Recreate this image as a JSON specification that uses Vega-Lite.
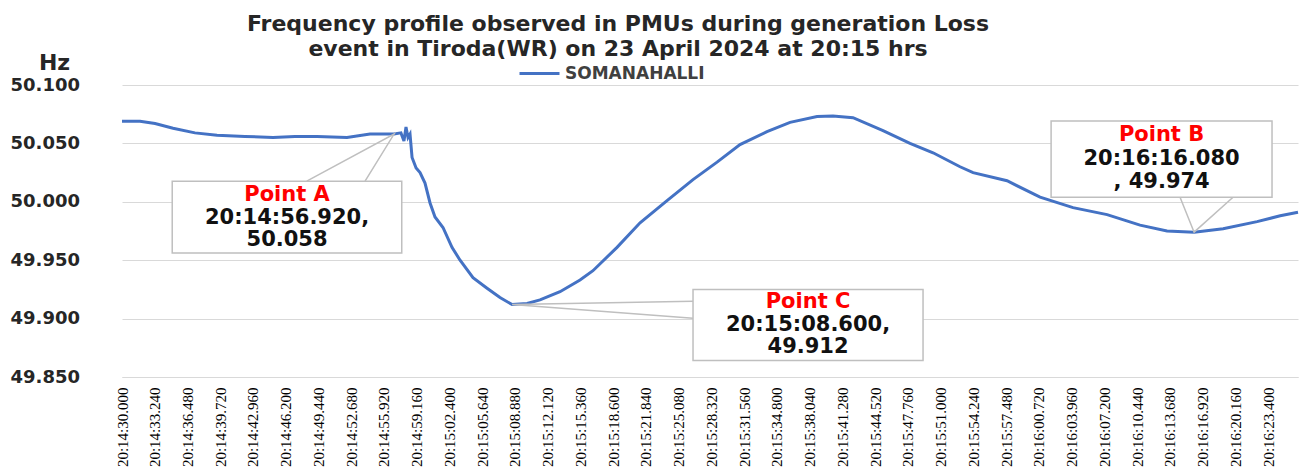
{
  "$schema": "https://vega.github.io/schema/vega-lite/v6.json",
  "width": 1176,
  "height": 292,
  "autosize": {"type": "none"},
  "padding": {"left": 122, "top": 85, "right": 12, "bottom": 94},
  "background": "white",
  "title": {
    "text": ["Frequency profile observed in PMUs during generation Loss", "event in Tiroda(WR) on 23 April 2024 at 20:15 hrs"],
    "font": "DejaVu Sans",
    "fontSize": 22,
    "fontWeight": "bold",
    "color": "#262626",
    "lineHeight": 25,
    "anchor": "middle",
    "dx": -92,
    "dy": 10,
    "offset": 0
  },
  "config": {"view": {"stroke": null}},
  "datasets": {
    "freq": [
      {"time": "2024-04-23T20:14:30.000", "f": 50.069},
      {"time": "2024-04-23T20:14:31.780", "f": 50.069},
      {"time": "2024-04-23T20:14:33.270", "f": 50.067},
      {"time": "2024-04-23T20:14:35.050", "f": 50.063},
      {"time": "2024-04-23T20:14:37.220", "f": 50.059},
      {"time": "2024-04-23T20:14:39.400", "f": 50.057},
      {"time": "2024-04-23T20:14:42.170", "f": 50.056},
      {"time": "2024-04-23T20:14:44.940", "f": 50.055},
      {"time": "2024-04-23T20:14:47.120", "f": 50.056},
      {"time": "2024-04-23T20:14:49.300", "f": 50.056},
      {"time": "2024-04-23T20:14:52.260", "f": 50.055},
      {"time": "2024-04-23T20:14:54.540", "f": 50.058},
      {"time": "2024-04-23T20:14:56.920", "f": 50.058},
      {"time": "2024-04-23T20:14:57.600", "f": 50.059},
      {"time": "2024-04-23T20:14:57.900", "f": 50.052},
      {"time": "2024-04-23T20:14:58.100", "f": 50.064},
      {"time": "2024-04-23T20:14:58.300", "f": 50.055},
      {"time": "2024-04-23T20:14:58.500", "f": 50.058},
      {"time": "2024-04-23T20:14:58.700", "f": 50.038},
      {"time": "2024-04-23T20:14:59.100", "f": 50.029},
      {"time": "2024-04-23T20:14:59.490", "f": 50.025},
      {"time": "2024-04-23T20:14:59.980", "f": 50.016},
      {"time": "2024-04-23T20:15:00.480", "f": 49.999},
      {"time": "2024-04-23T20:15:00.970", "f": 49.987},
      {"time": "2024-04-23T20:15:01.760", "f": 49.978},
      {"time": "2024-04-23T20:15:02.650", "f": 49.961},
      {"time": "2024-04-23T20:15:03.450", "f": 49.950},
      {"time": "2024-04-23T20:15:04.730", "f": 49.935},
      {"time": "2024-04-23T20:15:06.120", "f": 49.926},
      {"time": "2024-04-23T20:15:07.400", "f": 49.918},
      {"time": "2024-04-23T20:15:08.600", "f": 49.912},
      {"time": "2024-04-23T20:15:10.080", "f": 49.913},
      {"time": "2024-04-23T20:15:11.360", "f": 49.916},
      {"time": "2024-04-23T20:15:13.340", "f": 49.923},
      {"time": "2024-04-23T20:15:15.320", "f": 49.933},
      {"time": "2024-04-23T20:15:16.600", "f": 49.941},
      {"time": "2024-04-23T20:15:18.980", "f": 49.961},
      {"time": "2024-04-23T20:15:21.260", "f": 49.982},
      {"time": "2024-04-23T20:15:23.930", "f": 50.001},
      {"time": "2024-04-23T20:15:26.500", "f": 50.019},
      {"time": "2024-04-23T20:15:28.880", "f": 50.034},
      {"time": "2024-04-23T20:15:31.150", "f": 50.049},
      {"time": "2024-04-23T20:15:33.820", "f": 50.060},
      {"time": "2024-04-23T20:15:36.100", "f": 50.068},
      {"time": "2024-04-23T20:15:38.770", "f": 50.073},
      {"time": "2024-04-23T20:15:40.350", "f": 50.0734},
      {"time": "2024-04-23T20:15:42.330", "f": 50.072},
      {"time": "2024-04-23T20:15:45.300", "f": 50.061},
      {"time": "2024-04-23T20:15:47.970", "f": 50.050},
      {"time": "2024-04-23T20:15:50.250", "f": 50.042},
      {"time": "2024-04-23T20:15:52.920", "f": 50.030},
      {"time": "2024-04-23T20:15:54.210", "f": 50.025},
      {"time": "2024-04-23T20:15:57.570", "f": 50.018},
      {"time": "2024-04-23T20:16:00.840", "f": 50.004},
      {"time": "2024-04-23T20:16:04.100", "f": 49.995},
      {"time": "2024-04-23T20:16:07.470", "f": 49.989},
      {"time": "2024-04-23T20:16:10.730", "f": 49.980},
      {"time": "2024-04-23T20:16:13.400", "f": 49.975},
      {"time": "2024-04-23T20:16:16.080", "f": 49.974},
      {"time": "2024-04-23T20:16:18.950", "f": 49.977},
      {"time": "2024-04-23T20:16:22.310", "f": 49.983},
      {"time": "2024-04-23T20:16:24.600", "f": 49.988},
      {"time": "2024-04-23T20:16:26.360", "f": 49.991}
    ],
    "boxes": [
      {"name": "A", "t1": "2024-04-23T20:14:34.970", "t2": "2024-04-23T20:14:57.680", "f1": 50.0177, "f2": 49.9562},
      {"name": "C", "t1": "2024-04-23T20:15:26.500", "t2": "2024-04-23T20:15:49.260", "f1": 49.925, "f2": 49.8641},
      {"name": "B", "t1": "2024-04-23T20:16:01.930", "t2": "2024-04-23T20:16:23.790", "f1": 50.0691, "f2": 50.0039}
    ],
    "wedges": [
      {"name": "A", "ord": 1, "time": "2024-04-23T20:14:48.280", "f": 50.0177},
      {"name": "A", "ord": 2, "time": "2024-04-23T20:14:56.920", "f": 50.058},
      {"name": "A", "ord": 3, "time": "2024-04-23T20:14:54.050", "f": 50.0177},
      {"name": "C", "ord": 1, "time": "2024-04-23T20:15:26.500", "f": 49.9148},
      {"name": "C", "ord": 2, "time": "2024-04-23T20:15:08.600", "f": 49.912},
      {"name": "C", "ord": 3, "time": "2024-04-23T20:15:26.500", "f": 49.9002},
      {"name": "B", "ord": 1, "time": "2024-04-23T20:16:14.690", "f": 50.0039},
      {"name": "B", "ord": 2, "time": "2024-04-23T20:16:16.080", "f": 49.974},
      {"name": "B", "ord": 3, "time": "2024-04-23T20:16:19.930", "f": 50.0039}
    ],
    "labels": [
      {"time": "2024-04-23T20:14:46.330", "f": 50.0057, "text": "Point A", "role": "head"},
      {"time": "2024-04-23T20:14:46.330", "f": 49.9859, "text": "20:14:56.920,", "role": "body"},
      {"time": "2024-04-23T20:14:46.330", "f": 49.9671, "text": "50.058", "role": "body"},
      {"time": "2024-04-23T20:15:37.880", "f": 49.9139, "text": "Point C", "role": "head"},
      {"time": "2024-04-23T20:15:37.880", "f": 49.8941, "text": "20:15:08.600,", "role": "body"},
      {"time": "2024-04-23T20:15:37.880", "f": 49.8753, "text": "49.912", "role": "body"},
      {"time": "2024-04-23T20:16:12.860", "f": 50.0571, "text": "Point B", "role": "head"},
      {"time": "2024-04-23T20:16:12.860", "f": 50.0365, "text": "20:16:16.080", "role": "body"},
      {"time": "2024-04-23T20:16:12.860", "f": 50.0168, "text": ", 49.974", "role": "body"}
    ]
  },
  "encoding": {
    "x": {
      "field": "time",
      "type": "temporal",
      "scale": {
        "domain": [
          {"year": 2024, "month": 4, "date": 23, "hours": 20, "minutes": 14, "seconds": 30, "milliseconds": 0},
          {"year": 2024, "month": 4, "date": 23, "hours": 20, "minutes": 16, "seconds": 26, "milliseconds": 360}
        ],
        "nice": false
      },
      "axis": {
        "title": null,
        "format": "%H:%M:%S.%L",
        "labelAngle": -90,
        "labelFont": "Liberation Sans Narrow",
        "labelFontSize": 15,
        "labelColor": "#000000",
        "labelPadding": 10,
        "labelOverlap": false,
        "labelFlush": false,
        "ticks": false,
        "grid": false,
        "domain": true,
        "domainColor": "#d9d9d9",
        "values": [
          {"year": 2024, "month": 4, "date": 23, "hours": 20, "minutes": 14, "seconds": 30, "milliseconds": 0},
          {"year": 2024, "month": 4, "date": 23, "hours": 20, "minutes": 14, "seconds": 33, "milliseconds": 240},
          {"year": 2024, "month": 4, "date": 23, "hours": 20, "minutes": 14, "seconds": 36, "milliseconds": 480},
          {"year": 2024, "month": 4, "date": 23, "hours": 20, "minutes": 14, "seconds": 39, "milliseconds": 720},
          {"year": 2024, "month": 4, "date": 23, "hours": 20, "minutes": 14, "seconds": 42, "milliseconds": 960},
          {"year": 2024, "month": 4, "date": 23, "hours": 20, "minutes": 14, "seconds": 46, "milliseconds": 200},
          {"year": 2024, "month": 4, "date": 23, "hours": 20, "minutes": 14, "seconds": 49, "milliseconds": 440},
          {"year": 2024, "month": 4, "date": 23, "hours": 20, "minutes": 14, "seconds": 52, "milliseconds": 680},
          {"year": 2024, "month": 4, "date": 23, "hours": 20, "minutes": 14, "seconds": 55, "milliseconds": 920},
          {"year": 2024, "month": 4, "date": 23, "hours": 20, "minutes": 14, "seconds": 59, "milliseconds": 160},
          {"year": 2024, "month": 4, "date": 23, "hours": 20, "minutes": 15, "seconds": 2, "milliseconds": 400},
          {"year": 2024, "month": 4, "date": 23, "hours": 20, "minutes": 15, "seconds": 5, "milliseconds": 640},
          {"year": 2024, "month": 4, "date": 23, "hours": 20, "minutes": 15, "seconds": 8, "milliseconds": 880},
          {"year": 2024, "month": 4, "date": 23, "hours": 20, "minutes": 15, "seconds": 12, "milliseconds": 120},
          {"year": 2024, "month": 4, "date": 23, "hours": 20, "minutes": 15, "seconds": 15, "milliseconds": 360},
          {"year": 2024, "month": 4, "date": 23, "hours": 20, "minutes": 15, "seconds": 18, "milliseconds": 600},
          {"year": 2024, "month": 4, "date": 23, "hours": 20, "minutes": 15, "seconds": 21, "milliseconds": 840},
          {"year": 2024, "month": 4, "date": 23, "hours": 20, "minutes": 15, "seconds": 25, "milliseconds": 80},
          {"year": 2024, "month": 4, "date": 23, "hours": 20, "minutes": 15, "seconds": 28, "milliseconds": 320},
          {"year": 2024, "month": 4, "date": 23, "hours": 20, "minutes": 15, "seconds": 31, "milliseconds": 560},
          {"year": 2024, "month": 4, "date": 23, "hours": 20, "minutes": 15, "seconds": 34, "milliseconds": 800},
          {"year": 2024, "month": 4, "date": 23, "hours": 20, "minutes": 15, "seconds": 38, "milliseconds": 40},
          {"year": 2024, "month": 4, "date": 23, "hours": 20, "minutes": 15, "seconds": 41, "milliseconds": 280},
          {"year": 2024, "month": 4, "date": 23, "hours": 20, "minutes": 15, "seconds": 44, "milliseconds": 520},
          {"year": 2024, "month": 4, "date": 23, "hours": 20, "minutes": 15, "seconds": 47, "milliseconds": 760},
          {"year": 2024, "month": 4, "date": 23, "hours": 20, "minutes": 15, "seconds": 51, "milliseconds": 0},
          {"year": 2024, "month": 4, "date": 23, "hours": 20, "minutes": 15, "seconds": 54, "milliseconds": 240},
          {"year": 2024, "month": 4, "date": 23, "hours": 20, "minutes": 15, "seconds": 57, "milliseconds": 480},
          {"year": 2024, "month": 4, "date": 23, "hours": 20, "minutes": 16, "seconds": 0, "milliseconds": 720},
          {"year": 2024, "month": 4, "date": 23, "hours": 20, "minutes": 16, "seconds": 3, "milliseconds": 960},
          {"year": 2024, "month": 4, "date": 23, "hours": 20, "minutes": 16, "seconds": 7, "milliseconds": 200},
          {"year": 2024, "month": 4, "date": 23, "hours": 20, "minutes": 16, "seconds": 10, "milliseconds": 440},
          {"year": 2024, "month": 4, "date": 23, "hours": 20, "minutes": 16, "seconds": 13, "milliseconds": 680},
          {"year": 2024, "month": 4, "date": 23, "hours": 20, "minutes": 16, "seconds": 16, "milliseconds": 920},
          {"year": 2024, "month": 4, "date": 23, "hours": 20, "minutes": 16, "seconds": 20, "milliseconds": 160},
          {"year": 2024, "month": 4, "date": 23, "hours": 20, "minutes": 16, "seconds": 23, "milliseconds": 400}
        ]
      }
    },
    "y": {
      "field": "f",
      "type": "quantitative",
      "scale": {"domain": [49.85, 50.1], "nice": false, "zero": false},
      "axis": {
        "values": [49.85, 49.9, 49.95, 50.0, 50.05, 50.1],
        "format": ".3f",
        "labelFont": "DejaVu Sans",
        "labelFontWeight": "bold",
        "labelFontSize": 18,
        "labelColor": "#262626",
        "labelAlign": "left",
        "labelBaseline": "middle",
        "labelPadding": 112,
        "ticks": false,
        "domain": false,
        "grid": true,
        "gridColor": "#d9d9d9",
        "gridWidth": 1,
        "title": "Hz",
        "titleAngle": 0,
        "titleX": -68,
        "titleY": -23,
        "titleAlign": "center",
        "titleBaseline": "middle",
        "titleFont": "DejaVu Sans",
        "titleFontSize": 22,
        "titleFontWeight": "bold",
        "titleColor": "#262626"
      }
    }
  },
  "layer": [
    {
      "data": {"name": "freq"},
      "mark": {"type": "line", "strokeWidth": 3, "interpolate": "linear"},
      "encoding": {
        "color": {
          "datum": "SOMANAHALLI",
          "type": "nominal",
          "scale": {"range": ["#4472C4"]},
          "legend": {
            "title": null,
            "orient": "none",
            "legendX": 396,
            "legendY": -33,
            "symbolType": "stroke",
            "symbolSize": 1600,
            "symbolStrokeWidth": 3,
            "labelFont": "DejaVu Sans",
            "labelFontWeight": "bold",
            "labelFontSize": 17,
            "labelColor": "#404040",
            "padding": 0
          }
        }
      }
    },
    {
      "data": {"name": "wedges"},
      "mark": {"type": "line", "color": "#bfbfbf", "strokeWidth": 1.5},
      "encoding": {
        "detail": {"field": "name", "type": "nominal"},
        "order": {"field": "ord", "type": "quantitative"}
      }
    },
    {
      "data": {"name": "boxes"},
      "mark": {"type": "rect", "fill": "white", "stroke": "#bfbfbf", "strokeWidth": 1.5},
      "encoding": {
        "x": {"field": "t1", "type": "temporal"},
        "x2": {"field": "t2"},
        "y": {"field": "f1", "type": "quantitative"},
        "y2": {"field": "f2"}
      }
    },
    {
      "data": {"name": "labels"},
      "mark": {"type": "text", "font": "DejaVu Sans", "fontWeight": "bold", "fontSize": 21, "align": "center", "baseline": "middle"},
      "encoding": {
        "text": {"field": "text"},
        "color": {"condition": {"test": "datum.role === 'head'", "value": "#ff0000"}, "value": "#111111"}
      }
    }
  ]
}
